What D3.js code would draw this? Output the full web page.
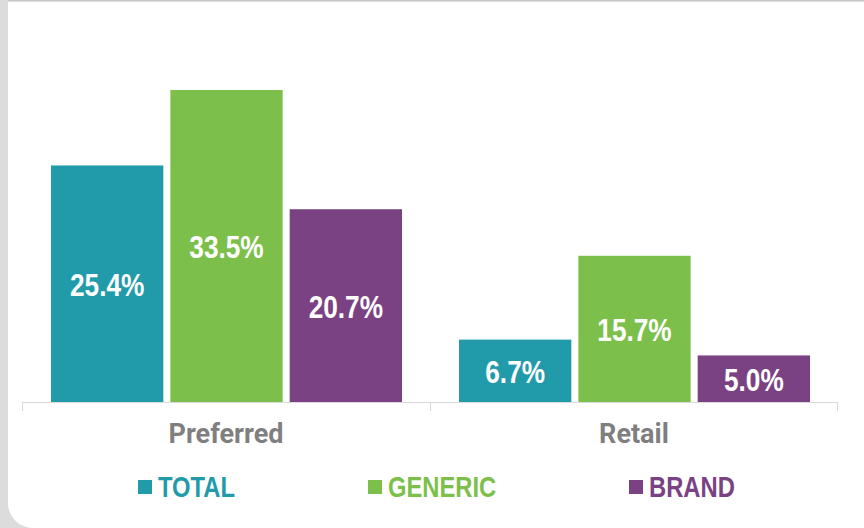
<!DOCTYPE html>
<html>
<head>
<meta charset="utf-8">
<script src="https://cdn.jsdelivr.net/npm/d3@7"></script>
<style>
  html, body { margin: 0; padding: 0; background: #dcdcdc; }
  svg { display: block; }
</style>
</head>
<body>
<svg></svg>
<script>
var categories = ["Preferred", "Retail"],
    series = ["TOTAL", "GENERIC", "BRAND"],
    totalValues = [25.4, 6.7],
    genericValues = [33.5, 15.7],
    brandValues = [20.7, 5.0]

var colors = ["#219ba9", "#7dbf4b", "#7b4283"],
    narrow = "'Liberation Sans', Arial, sans-serif",
    squeeze = 0.82 // no narrow face installed, so condense by hand

var width = 864, height = 528

var svg = d3.select("svg")
    .attr("width", width)
    .attr("height", height)

// background panel (bottom corners rounded)
svg.append("rect").attr("x", 0).attr("y", 0).attr("width", width).attr("height", height).attr("fill", "#dcdcdc")
svg.append("rect").attr("x", 8).attr("y", 1).attr("width", 880).attr("height", 527).attr("rx", 25).attr("fill", "#fff")
svg.append("rect").attr("x", 8).attr("y", 1).attr("width", 880).attr("height", 60).attr("fill", "#fff")
svg.append("rect").attr("x", 0).attr("y", 0).attr("width", width).attr("height", 1.5).attr("fill", "#c6c6c6")
svg.append("rect").attr("x", 0).attr("y", 0).attr("width", 8).attr("height", height).attr("fill", "#dcdcdc")

var rows = categories.map((c, i) => ({
    category: c,
    values: [totalValues[i], genericValues[i], brandValues[i]]
}))

var x0 = d3.scaleBand().domain(categories).range([22, 838])
var x1 = d3.scaleBand().domain(series).range([29, 380]).paddingInner(0.0588).paddingOuter(0)
var y = d3.scaleLinear().domain([0, 35]).range([402, 402 - 35 * 9.313])

var groups = svg.selectAll("g.group")
    .data(rows)
    .enter().append("g")
    .attr("class", "group")
    .attr("transform", d => "translate(" + x0(d.category) + ",0)")

var cells = groups.selectAll("g.cell")
    .data(d => d.values.map((v, j) => ({ key: series[j], value: v, idx: j })))
    .enter().append("g")
    .attr("class", "cell")

cells.append("rect")
    .attr("x", d => x1(d.key))
    .attr("width", x1.bandwidth())
    .attr("y", d => y(d.value))
    .attr("height", d => y(0) - y(d.value))
    .style("fill", d => colors[d.idx])

cells.append("text")
    .attr("transform", d => "translate(" + (x1(d.key) + x1.bandwidth() / 2) + "," +
        ((y(d.value) + y(0)) / 2 + 12) + ") scale(" + squeeze + ",1)")
    .attr("text-anchor", "middle")
    .style("font-family", narrow)
    .style("font-weight", "bold")
    .style("font-size", "32px")
    .style("fill", "#fff")
    .text(d => d.value.toFixed(1) + "%")

// axis
var axis = svg.append("g")
axis.append("line")
    .attr("x1", 22).attr("x2", 838)
    .attr("y1", 402.5).attr("y2", 402.5)
    .style("stroke", "#d9d9d9")
axis.selectAll("line.tick")
    .data(categories.concat(["end"]))
    .enter().append("line")
    .attr("class", "tick")
    .attr("x1", (d, i) => i < categories.length ? Math.round(x0(d)) + 0.5 : 837.5)
    .attr("x2", (d, i) => i < categories.length ? Math.round(x0(d)) + 0.5 : 837.5)
    .attr("y1", 402).attr("y2", 411)
    .style("stroke", "#d9d9d9")
axis.selectAll("text")
    .data(categories)
    .enter().append("text")
    .attr("x", d => x0(d) + x0.bandwidth() / 2)
    .attr("y", 443)
    .attr("text-anchor", "middle")
    .style("font-family", "Roboto, sans-serif")
    .style("font-weight", "bold")
    .style("font-size", "27px")
    .style("fill", "#7f7f7f")
    .text(d => d)

// legend
var legendX = [138, 368, 629]
var legend = svg.selectAll("g.legend")
    .data(series)
    .enter().append("g")
    .attr("class", "legend")
    .attr("transform", (d, i) => "translate(" + legendX[i] + ",0)")
legend.append("rect")
    .attr("x", 0).attr("y", 480)
    .attr("width", 14).attr("height", 14)
    .style("fill", (d, i) => colors[i])
legend.append("text")
    .attr("transform", "translate(20,497) scale(" + squeeze + ",1)")
    .style("font-family", narrow)
    .style("font-weight", "bold")
    .style("font-size", "29px")
    .style("fill", (d, i) => colors[i])
    .text(d => d)
</script>
</body>
</html>
